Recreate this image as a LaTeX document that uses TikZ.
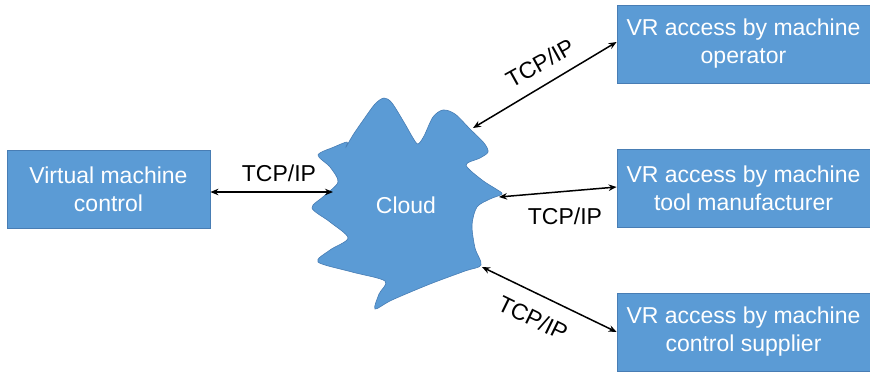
\documentclass[tikz,border=0pt]{standalone}
\usepackage{fontspec}
\setmainfont{Liberation Sans}
\usetikzlibrary{arrows.meta}
\definecolor{boxfill}{RGB}{91,155,213}
\definecolor{boxline}{RGB}{72,125,180}
\begin{document}
\begin{tikzpicture}[x=1pt,y=-1pt,
  every node/.style={font=\fontsize{23}{28}\selectfont},
  block/.style={draw=boxline, line width=0.8pt, fill=boxfill, text=white,
    align=center, inner sep=0pt},
  link/.style={line width=1.5pt, {Stealth[length=8pt,width=6.5pt]}-{Stealth[length=8pt,width=6.5pt]}},
  lbl/.style={text=black, inner sep=1pt}]
\useasboundingbox (0,0) rectangle (870,372);

% participants
\node[block, minimum width=203pt, minimum height=78pt] (vmc) at (108.5,189) {Virtual machine\\control};
\node[block, minimum width=253pt, minimum height=78pt] (op) at (743.5,44) {VR access by machine\\operator};
\node[block, minimum width=253pt, minimum height=78pt] (mtm) at (743.5,188) {VR access by machine\\tool manufacturer};
\node[block, minimum width=253pt, minimum height=78pt] (sup) at (743.5,332) {VR access by machine\\control supplier};

% cloud outline
\draw[boxline, line width=0.6pt, fill=boxfill]
  plot[smooth cycle, tension=0.5] coordinates {
    (375,104) (384,98) (392,103) (405,124) (413,138) (418,144) (424,136)
    (433,117) (443,110) (455,114) (470,129) (484,143) (488,152)
    (480,158) (466,165) (482,180) (496,189) (502,194) (490,199)
    (477,207) (472,225) (475,248) (481,265) (465,271) (430,284)
    (392,300) (375,309) (379,294) (385,281) (352,272) (318,262)
    (330,250) (348,238) (330,222) (312,208) (324,196) (338,182)
    (330,167) (318,155) (334,147) (347,142) (346,147) (353,135) (364,119)};
\node[text=white] (cloud) at (406,205) {Cloud};

% attachment points on the cloud rim
\coordinate (cL) at (333,192);
\coordinate (cT) at (473,128);
\coordinate (cM) at (499,197);
\coordinate (cB) at (482,267);

% connections
\draw[link] (vmc.east |- cL) -- (cL);
\draw[link] (cT) -- ([yshift=2pt]op.west);
\draw[link] (cM) -- ([yshift=1pt]mtm.west);
\draw[link] (cB) -- (sup.west);

% protocol labels
\node[lbl] (tL) at (279,173) {TCP/IP};
\node[lbl, rotate=29] (tT) at (540,63) {TCP/IP};
\node[lbl] (tM) at (565,216) {TCP/IP};
\node[lbl, rotate=-26] (tB) at (533,318) {TCP/IP};
\end{tikzpicture}
\end{document}
